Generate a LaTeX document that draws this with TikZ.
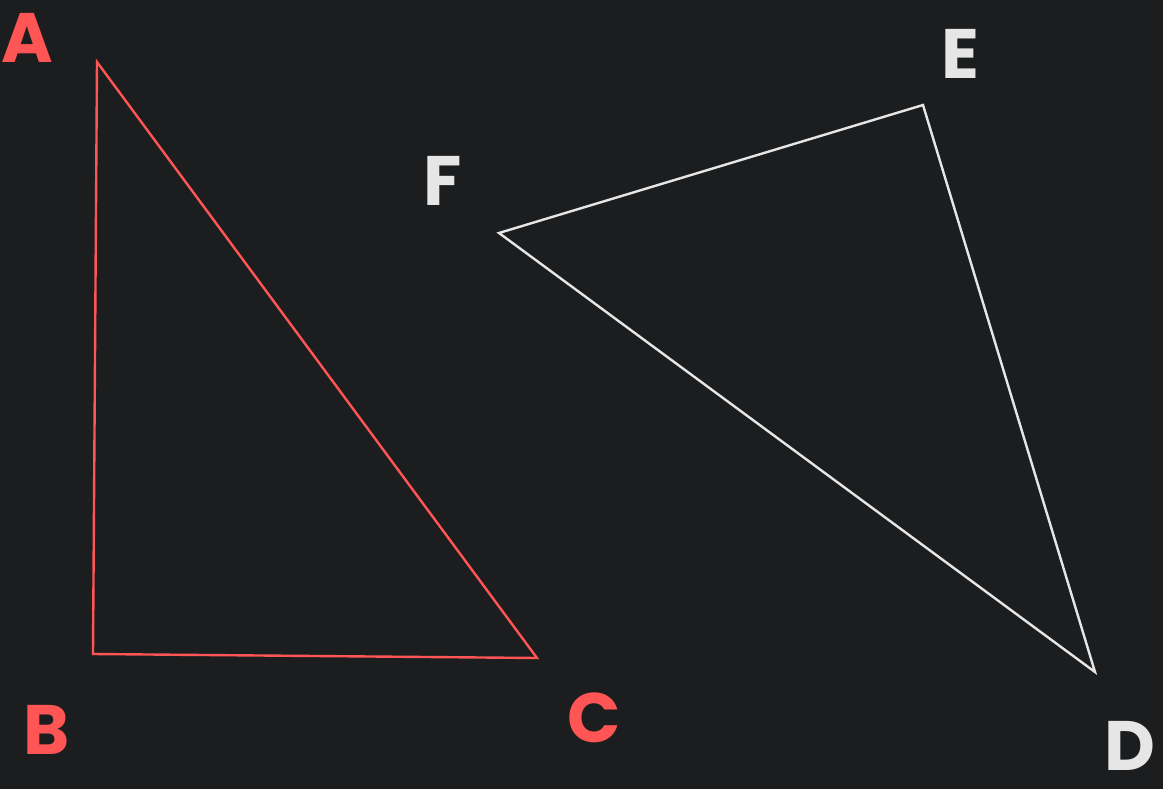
\documentclass[tikz,border=0pt]{standalone}
\usepackage{fontspec}
\setmainfont{Poppins}
\definecolor{bg}{HTML}{1C1D1F}
\definecolor{redc}{HTML}{FF5555}
\definecolor{whitec}{HTML}{E6E6E6}
\begin{document}
\begin{tikzpicture}[x=1pt,y=-1pt,
  tri/.style={line width=2.4pt, line join=miter},
  lbl/.style={font=\fontsize{70}{70}\selectfont\bfseries, inner sep=0pt, anchor=center}]
\fill[bg] (0,0) rectangle (1163,789);
\useasboundingbox (0,0) rectangle (1163,789);
\coordinate (A) at (97,62);
\coordinate (B) at (93,654);
\coordinate (C) at (537,658);
\coordinate (E) at (923,105);
\coordinate (F) at (499,233);
\coordinate (D) at (1095,672);
\draw[tri, redc] (A) -- (B) -- (C) -- cycle;
\draw[tri, whitec] (E) -- (F) -- (D) -- cycle;
\node[lbl, text=redc] (lA) at (27,38) {A};
\node[lbl, text=redc] (lB) at (47,730) {B};
\node[lbl, text=redc] (lC) at (594,718) {C};
\node[lbl, text=whitec] (lD) at (1130,746) {D};
\node[lbl, text=whitec] (lE) at (960,54) {E};
\node[lbl, text=whitec] (lF) at (443,181) {F};
\end{tikzpicture}
\end{document}
